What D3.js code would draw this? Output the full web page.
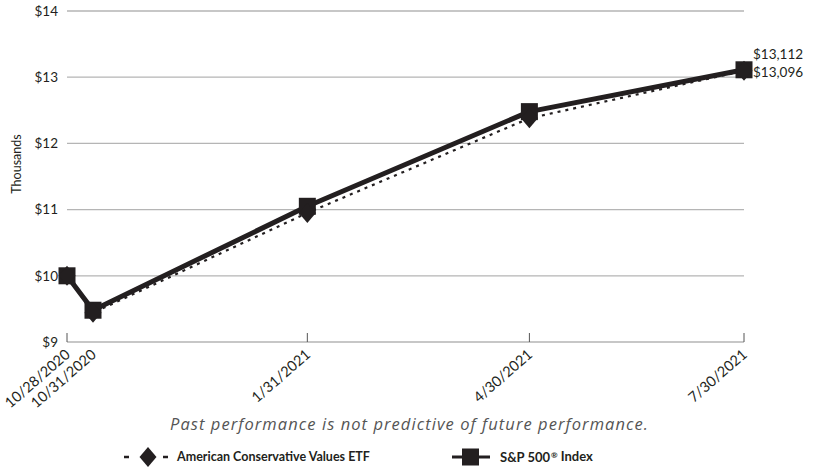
<!DOCTYPE html>
<html><head><meta charset="utf-8">
<script src="https://cdn.jsdelivr.net/npm/d3@7"></script>
<style>body{margin:0;background:#fff}svg{display:block}</style>
</head><body><svg id="c" width="816" height="468"></svg>
<script>
const dates = ["10/28/2020","10/31/2020","1/31/2021","4/30/2021","7/30/2021"];
const tickDates = ["10/28/2020","1/31/2021","4/30/2021","7/30/2021"];
const etf = [10000, 9440, 10950, 12380, 13096];
const spx = [10000, 9480, 11050, 12480, 13112];
const yTicks = [9,10,11,12,13,14];
const seriesNames = ["American Conservative Values ETF","S&P 500"];

const svg = d3.select("#c");
const ink = "#231f20";
const L = 67, R = 744, T = 11, B = 342;
const x = d3.scaleLinear().domain([0,1,2,3,4])
  .range([0, 0.0384, 0.355, 0.683, 1].map(f => L + f*(R-L)));
const y = d3.scaleLinear().domain([9,14]).range([B,T]);
const font = "Lato, 'Open Sans', sans-serif";

// gridlines
svg.append("g").selectAll("line").data(yTicks).join("line")
  .attr("x1",L).attr("x2",R).attr("y1",d=>y(d)).attr("y2",d=>y(d))
  .attr("stroke","#b5b5b5").attr("stroke-width",1.3);
// x ticks
svg.append("g").selectAll("line").data(tickDates).join("line")
  .attr("x1",d=>x(dates.indexOf(d))).attr("x2",d=>x(dates.indexOf(d)))
  .attr("y1",B).attr("y2",B-9).attr("stroke","#555").attr("stroke-width",1);
// y labels
svg.append("g").selectAll("text").data(yTicks).join("text")
  .attr("x",58).attr("y",d=>y(d)).attr("dy","0.35em").attr("text-anchor","end")
  .attr("font-family",font).attr("font-size",13.5).attr("fill",ink)
  .text(d=>"$"+d);
// x labels
svg.append("g").selectAll("text").data(dates).join("text")
  .attr("transform",(d,i)=>`translate(${x(i)+4},${B+14}) rotate(-41)`)
  .attr("text-anchor","end")
  .attr("font-family",font).attr("font-size",14.5).attr("fill",ink)
  .text(d=>d);
// y title
svg.append("text").attr("transform","translate(21,164) rotate(-90)")
  .attr("text-anchor","middle").attr("font-family",font).attr("font-size",12.5).attr("fill",ink)
  .text("Thousands");

const line = d3.line().x((d,i)=>x(i)).y(d=>y(d/1000));
// S&P solid
svg.append("path").datum(spx).attr("d",line).attr("fill","none")
  .attr("stroke",ink).attr("stroke-width",5).attr("stroke-linejoin","round");
svg.append("g").selectAll("rect").data(spx).join("rect")
  .attr("x",(d,i)=>x(i)-8.5).attr("y",d=>y(d/1000)-8.5).attr("width",17).attr("height",17).attr("fill",ink);
// ETF dashed
svg.append("path").datum(etf).attr("d",line).attr("fill","none")
  .attr("stroke",ink).attr("stroke-width",2.2).attr("stroke-dasharray","3,5");
const diamond = "M0,-10L8.5,0L0,10L-8.5,0Z";
svg.append("g").selectAll("path").data(etf).join("path")
  .attr("transform",(d,i)=>`translate(${x(i)},${y(d/1000)})`).attr("d",diamond).attr("fill",ink);

// end labels
svg.append("text").attr("x",753).attr("y",y(spx[4]/1000)-16).attr("dy","0.35em")
  .attr("font-family",font).attr("font-size",13.5).attr("fill",ink).text("$"+d3.format(",")(spx[4]));
svg.append("text").attr("x",753).attr("y",y(etf[4]/1000)+1).attr("dy","0.35em")
  .attr("font-family",font).attr("font-size",13.5).attr("fill",ink).text("$"+d3.format(",")(etf[4]));

// note
svg.append("text").attr("x",170).attr("y",430)
  .attr("font-family","'Open Sans', sans-serif").attr("font-style","italic").attr("font-size",16.5).attr("fill","#555")
  .attr("textLength",478).attr("lengthAdjust","spacing")
  .text("Past performance is not predictive of future performance.");

// legend
const ly = 457;
const lg = svg.append("g");
[124,163].forEach(x0 => lg.append("line").attr("x1",x0).attr("x2",x0+5).attr("y1",ly).attr("y2",ly)
  .attr("stroke",ink).attr("stroke-width",2.5));
lg.append("path").attr("transform",`translate(148,${ly})`).attr("d",diamond).attr("fill",ink);
lg.append("text").attr("x",177).attr("y",ly).attr("dy","0.35em").attr("font-family",font)
  .attr("font-weight","bold").attr("font-size",12.5).attr("fill",ink).text(seriesNames[0]);
lg.append("line").attr("x1",452).attr("x2",490).attr("y1",ly).attr("y2",ly)
  .attr("stroke",ink).attr("stroke-width",3);
lg.append("rect").attr("x",462).attr("y",ly-8.5).attr("width",17).attr("height",17).attr("fill",ink);
const t2 = lg.append("text").attr("x",500).attr("y",ly).attr("dy","0.35em").attr("font-family",font)
  .attr("font-weight","bold").attr("font-size",13).attr("fill",ink);
t2.append("tspan").text(seriesNames[1]);
t2.append("tspan").attr("font-size",8).attr("dy","-0.5em").attr("dx",1).text("\u00AE");
t2.append("tspan").attr("dy","0.3em").text(" Index");
</script></body></html>
